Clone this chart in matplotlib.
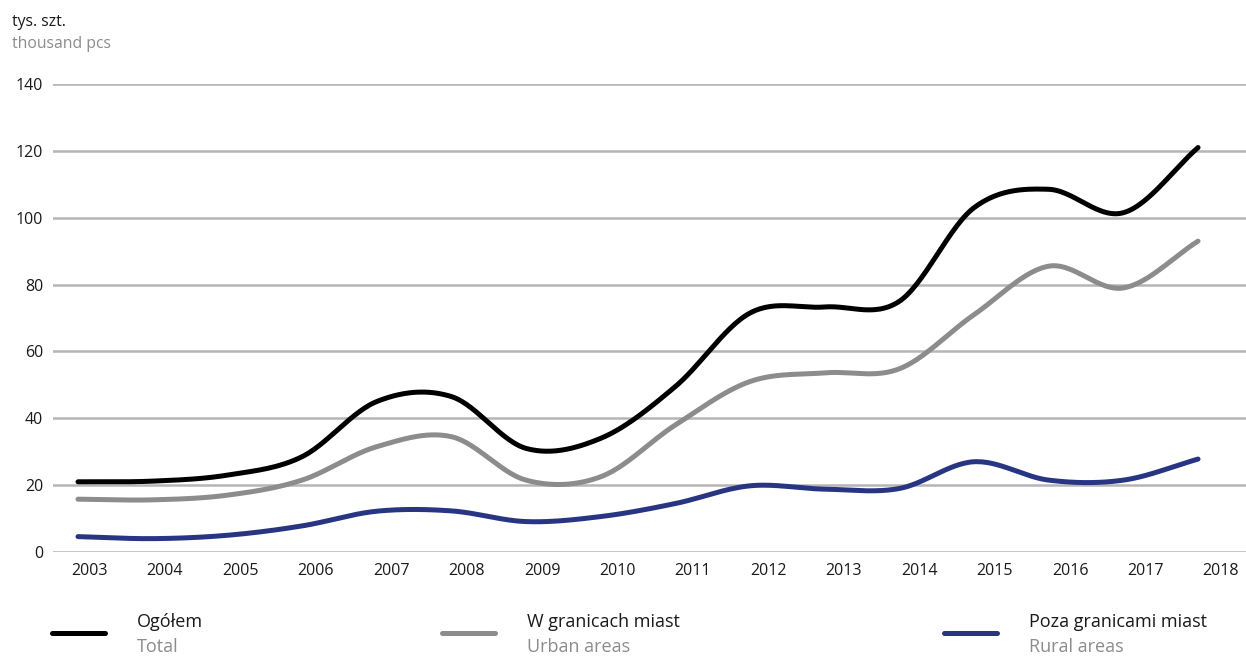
import numpy as np
import matplotlib
matplotlib.use("Agg")
import matplotlib.pyplot as plt
from matplotlib.lines import Line2D

plt.rcParams["font.family"] = ["Open Sans", "DejaVu Sans"]

# ---------------------------------------------------------------------------
# Data (thousand pcs)
# ---------------------------------------------------------------------------
years = list(range(2003, 2019))
total = [21.0, 21.2, 23.0, 28.5, 45.0, 46.5, 31.0, 34.0, 49.5, 71.5, 73.3, 75.0, 103.0, 108.5, 101.5, 121.0]
urban = [15.8, 15.6, 17.0, 21.5, 31.5, 34.5, 21.5, 22.5, 38.0, 51.0, 53.6, 54.8, 71.0, 85.5, 79.0, 93.0]
rural = [4.6, 4.0, 5.0, 7.8, 12.2, 12.3, 9.1, 10.6, 14.5, 19.8, 18.8, 19.0, 27.0, 21.5, 21.5, 27.8]

tick_years = [str(y) for y in range(2003, 2019)]
series_pl = ["Ogółem", "W granicach miast", "Poza granicami miast"]
series_en = ["Total", "Urban areas", "Rural areas"]
colors = ["#000000", "#8c8c8c", "#283583"]


def smooth(y, n=30):
    """Catmull-Rom smoothing, like a 'smoothed line' chart."""
    y = np.asarray(y, dtype=float)
    p = np.concatenate([[2 * y[0] - y[1]], y, [2 * y[-1] - y[-2]]])
    xs, ys = [], []
    t = np.linspace(0, 1, n, endpoint=False)
    for i in range(len(y) - 1):
        p0, p1, p2, p3 = p[i], p[i + 1], p[i + 2], p[i + 3]
        m1 = (p2 - p0) / 2
        m2 = (p3 - p1) / 2
        h00 = 2 * t**3 - 3 * t**2 + 1
        h10 = t**3 - 2 * t**2 + t
        h01 = -2 * t**3 + 3 * t**2
        h11 = t**3 - t**2
        xs.append(i + t)
        ys.append(h00 * p1 + h10 * m1 + h01 * p2 + h11 * m2)
    xs.append([len(y) - 1])
    ys.append([y[-1]])
    return np.concatenate(xs), np.concatenate(ys)


fig = plt.figure(figsize=(12.46, 6.57), dpi=100)
ax = fig.add_axes([53 / 1246, 1 - 552 / 657, 1 - 53 / 1246, (552 - 84) / 657])

step_px = 74.67
ax.set_xlim((53 - 78) / step_px, (1246 - 78) / step_px)
ax.set_ylim(0, 140)

for vals, col in zip([rural, urban, total], colors[::-1]):
    xs, ys = smooth(vals)
    ax.plot(xs, ys, color=col, lw=3.6, solid_capstyle="round", zorder=3)

ax.set_yticks(np.arange(0, 141, 20))
ax.yaxis.grid(True, color="#b5b5b5", lw=1.8)
ax.set_axisbelow(True)
tick_pos = [(89.5 - 78) / step_px + j * 75.43 / step_px for j in range(len(tick_years))]
ax.set_xticks(tick_pos)
ax.set_xticklabels(tick_years)
ax.tick_params(length=0, labelsize=11.5, colors="#1a1a1a")
ax.tick_params(axis="y", pad=7)
ax.tick_params(axis="x", pad=8)
for s in ax.spines.values():
    s.set_visible(False)

fig.text(12 / 1246, 1 - 22 / 657, "tys. szt.", fontsize=11.3, color="#1a1a1a", va="center")
fig.text(12 / 1246, 1 - 44 / 657, "thousand pcs", fontsize=11.3, color="#8c8c8c", va="center")

# legend
leg_x = [52, 442, 944]
for x0, col, pl, en in zip(leg_x, colors, series_pl, series_en):
    fig.add_artist(Line2D([x0 / 1246, (x0 + 53) / 1246], [1 - 633 / 657] * 2,
                          color=col, lw=3.6, solid_capstyle="round"))
    fig.text((x0 + 85) / 1246, 1 - 622 / 657, pl, fontsize=13, color="#1a1a1a", va="center")
    fig.text((x0 + 85) / 1246, 1 - 647 / 657, en, fontsize=13, color="#8c8c8c", va="center")

fig.savefig("out.png", dpi=100)
